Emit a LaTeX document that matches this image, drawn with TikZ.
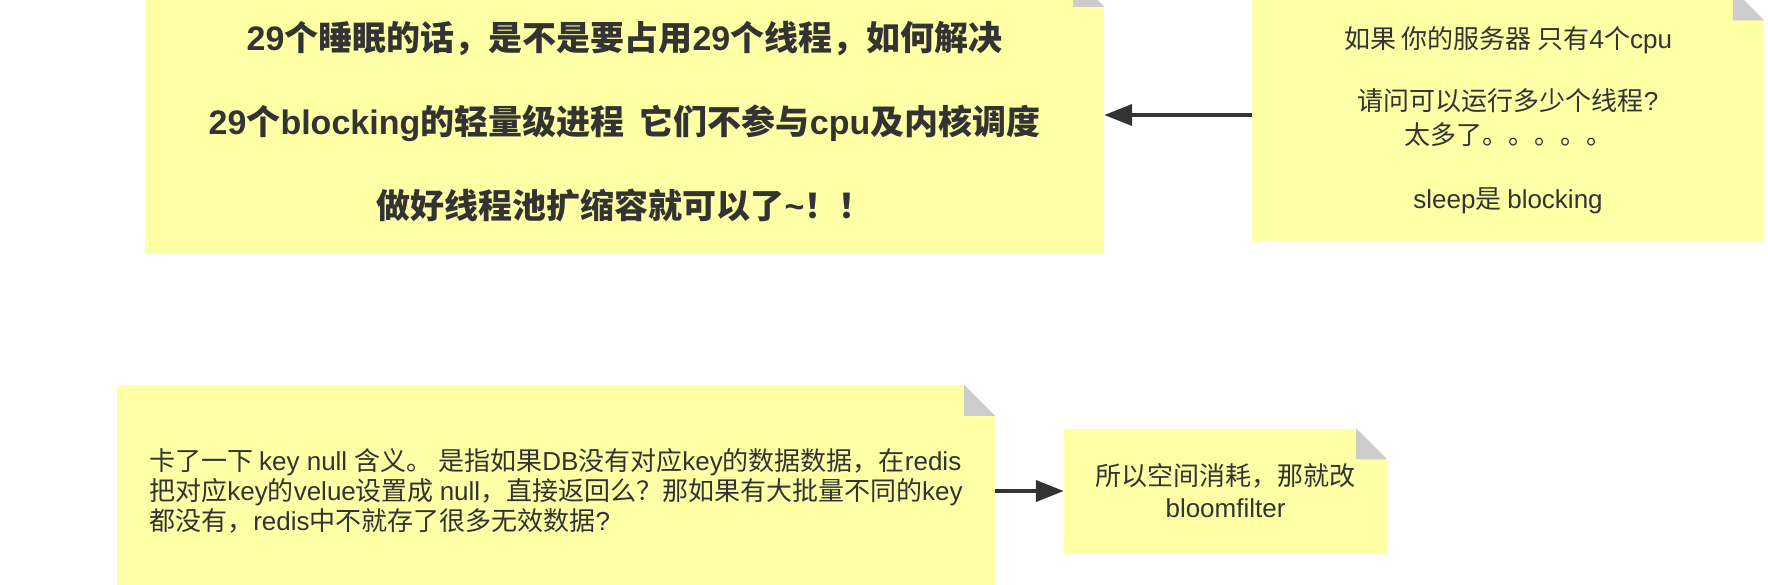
\documentclass[tikz,border=0pt]{standalone}
\usepackage{fontspec}
\setmainfont{Liberation Sans}
\newfontfamily\cjk{Noto Sans CJK SC}
\usetikzlibrary{arrows.meta}
% Chinese characters are set in the CJK font, the rest in Liberation Sans
\XeTeXinterchartokenstate=1
\newXeTeXintercharclass\cjkclass
\newcount\charno
\newcommand{\cjkrange}[2]{\charno=#1\relax
  \loop\XeTeXcharclass\charno=\cjkclass
  \ifnum\charno<#2\relax\advance\charno by 1\repeat}
\cjkrange{"3000}{"303F}
\cjkrange{"4E00}{"9FFF}
\cjkrange{"FF00}{"FFEF}
\XeTeXinterchartoks 0 \cjkclass = {\cjk}
\XeTeXinterchartoks 4095 \cjkclass = {\cjk}
\XeTeXinterchartoks \cjkclass 0 = {\rmfamily}
\XeTeXinterchartoks 4095 0 = {\rmfamily}
\definecolor{noteyellow}{HTML}{FFFFA6}
\definecolor{foldgray}{HTML}{CCCCCC}
\definecolor{inkgray}{HTML}{333333}
% folded corner of a note
\newcommand{\notefold}[1]{%
  \fill[white] ([xshift=-31pt]#1.north east) -- (#1.north east) -- ([yshift=-31pt]#1.north east) -- cycle;
  \fill[foldgray] ([xshift=-31pt]#1.north east) -- ([xshift=-31pt,yshift=-31pt]#1.north east) -- ([yshift=-31pt]#1.north east) -- cycle;}
\begin{document}
\begin{tikzpicture}[x=1pt,y=-1pt,
    note/.style={fill=noteyellow,text=inkgray,inner sep=0pt,align=center},
    link/.style={draw=inkgray,line width=4pt,-{Triangle[length=28pt,width=21pt]}}]
  \useasboundingbox (0,0) rectangle (1768,584);
  \node[note,minimum width=959pt,minimum height=278pt,font=\bfseries\fontsize{34}{84}\selectfont] (sleep) at (624.5,115)
    {\rule{0pt}{42pt}29个睡眠的话，是不是要占用29个线程，如何解决\\29个blocking的轻量级进程\ \ 它们不参与cpu及内核调度\\做好线程池扩缩容就可以了\textasciitilde！！};
  \node[note,minimum width=512pt,minimum height=251pt,font=\fontsize{26}{31}\selectfont] (cpu) at (1508,115)
    {\rule{0pt}{33pt}如果 你的服务器 只有4个cpu\\[31pt]请问可以运行多少个线程?\\[3pt]太多了。。。。。\\[33pt]sleep是 blocking};
  \node[note,align=left,minimum width=878pt,minimum height=212pt,font=\fontsize{26}{30}\selectfont] (nullkey) at (556,491)
    {卡了一下 key null 含义。 是指如果DB没有对应key的数据数据，在redis\\把对应key的velue设置成 null，直接返回么？那如果有大批量不同的key\\都没有，redis中不就存了很多无效数据?};
  \node[note,minimum width=323pt,minimum height=125pt,font=\fontsize{26}{32}\selectfont] (bloom) at (1225.5,491)
    {所以空间消耗，那就改\\bloomfilter};
  \notefold{sleep}
  \notefold{cpu}
  \notefold{nullkey}
  \notefold{bloom}
  \draw[link] (cpu.west) -- (sleep.east);
  \draw[link] (nullkey.east) -- (bloom.west);
\end{tikzpicture}
\end{document}
